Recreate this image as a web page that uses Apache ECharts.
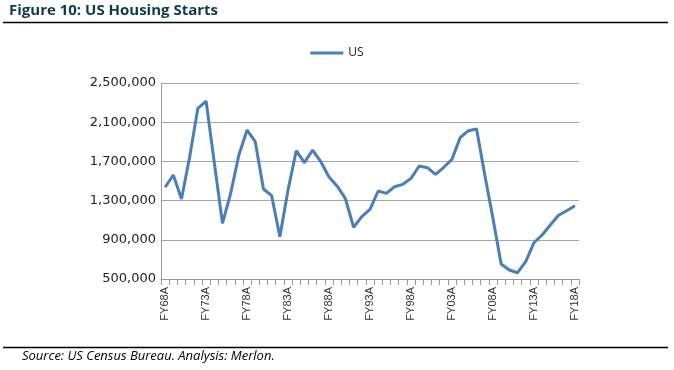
<!DOCTYPE html>
<html><head><meta charset="utf-8">
<script src="https://cdn.jsdelivr.net/npm/echarts@6/dist/echarts.min.js"></script>
<style>html,body{margin:0;padding:0;background:#fff}#c{width:674px;height:370px}</style>
</head><body><div id="c"></div>
<script>
const categories = ["FY68A","FY69A","FY70A","FY71A","FY72A","FY73A","FY74A","FY75A","FY76A","FY77A","FY78A","FY79A","FY80A","FY81A","FY82A","FY83A","FY84A","FY85A","FY86A","FY87A","FY88A","FY89A","FY90A","FY91A","FY92A","FY93A","FY94A","FY95A","FY96A","FY97A","FY98A","FY99A","FY00A","FY01A","FY02A","FY03A","FY04A","FY05A","FY06A","FY07A","FY08A","FY09A","FY10A","FY11A","FY12A","FY13A","FY14A","FY15A","FY16A","FY17A","FY18A"];
const usStarts = [1436000,1561000,1316000,1748000,2242000,2316000,1690000,1068000,1375000,1765000,2020000,1901000,1418000,1350000,932000,1408000,1809000,1687000,1816000,1697000,1540000,1447000,1320000,1028000,1136000,1211000,1398000,1374000,1442000,1466000,1527000,1653000,1636000,1568000,1640000,1721000,1942000,2013000,2031000,1564000,1119000,653000,592000,564000,677000,870000,949000,1051000,1150000,1197000,1248000];
const yTicks = {min:500000, max:2500000, interval:400000};
const chart = echarts.init(document.getElementById('c'));
chart.setOption({
  animation:false,
  graphic:[
    {type:'text', left:9, top:3, style:{text:'Figure 10: US Housing Starts', font:'bold 15px "Open Sans", sans-serif', fill:'#10394c'}},
    {type:'line', shape:{x1:3,y1:22.5,x2:668,y2:22.5}, style:{stroke:'#000',lineWidth:1.3}},
    {type:'line', shape:{x1:3,y1:347.5,x2:668,y2:347.5}, style:{stroke:'#000',lineWidth:1.3}},
    {type:'text', left:22, top:350, style:{text:'Source: US Census Bureau. Analysis: Merlon.', font:'italic 13px "Open Sans", sans-serif', fill:'#000'}}
  ],
  legend:{top:42, left:'center', icon:'rect', itemWidth:33, itemHeight:3, itemGap:5,
    textStyle:{fontSize:12, color:'#222', fontFamily:'"Open Sans", sans-serif'}},
  grid:{left:161, right:95, top:83, bottom:91, containLabel:false},
  xAxis:{type:'category', data:categories, boundaryGap:true,
    axisLine:{lineStyle:{color:'#999', width:1}},
    axisTick:{show:true, interval:0, length:6, lineStyle:{color:'#999'}},
    axisLabel:{interval:4, rotate:90, fontSize:11, color:'#333', margin:8, fontFamily:'"Liberation Sans Narrow", sans-serif'},
    splitLine:{show:false}},
  yAxis:{type:'value', min:yTicks.min, max:yTicks.max, interval:yTicks.interval,
    axisLine:{show:true, lineStyle:{color:'#999'}},
    axisTick:{show:false},
    axisLabel:{margin:5, fontSize:13, color:'#222', fontFamily:'"DejaVu Sans", sans-serif',
      formatter:v=>v.toLocaleString('en-US')},
    splitLine:{lineStyle:{color:'#a6a6a6', width:1}}},
  series:[{name:'US', type:'line', data:usStarts, symbol:'none', smooth:false,
    lineStyle:{color:'#4a7ebb', width:3}, itemStyle:{color:'#4a7ebb'}}]
});
</script></body></html>
